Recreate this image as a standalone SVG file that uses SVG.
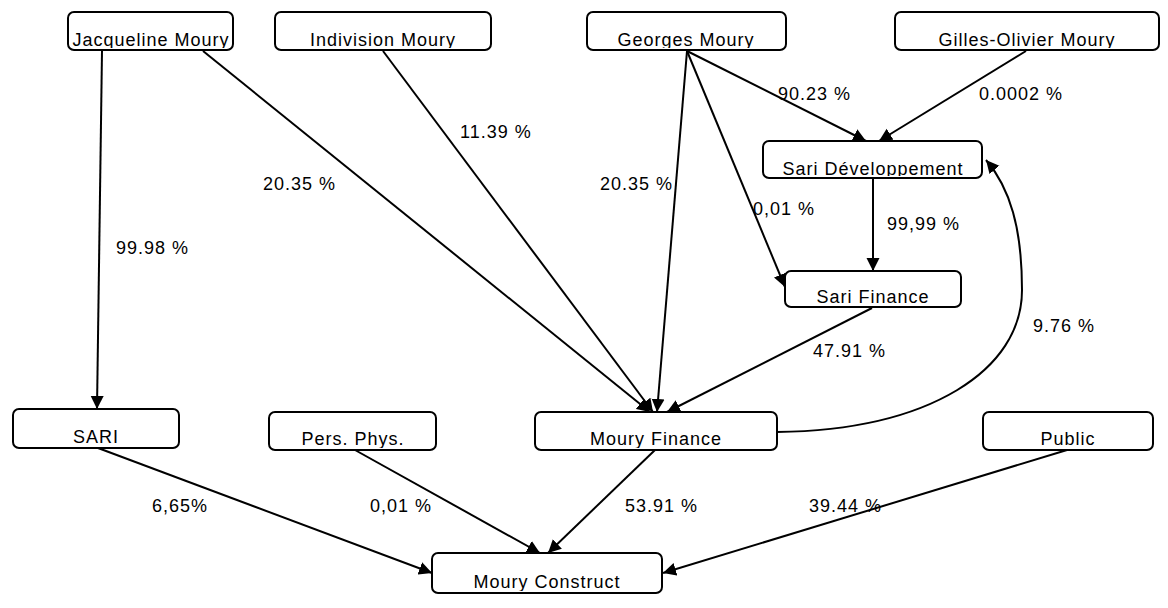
<svg xmlns="http://www.w3.org/2000/svg" width="1168" height="608" viewBox="0 0 1168 608">
<style>
  .box { fill: #ffffff; stroke: #000000; stroke-width: 2; }
  .nt { font-family: "Liberation Sans", Arial, sans-serif; font-size: 18px; letter-spacing: 1px; fill: #000000; text-anchor: middle; }
  .lbl { font-family: "Liberation Sans", Arial, sans-serif; font-size: 18px; letter-spacing: 1px; fill: #000000; }
  .edge { fill: none; stroke: #000000; stroke-width: 2; marker-end: url(#arrow); }
</style>
<defs>
  <marker id="arrow" markerUnits="userSpaceOnUse" markerWidth="14" markerHeight="14" refX="13" refY="7" orient="auto">
    <path d="M0,0.5 L13,7 L0,13.5 z" fill="#000000"/>
  </marker>
  <clipPath id="c-jac"><rect x="69" y="13" width="163" height="35"/></clipPath>
  <clipPath id="c-ind"><rect x="276" y="13" width="214" height="35"/></clipPath>
  <clipPath id="c-geo"><rect x="588" y="13" width="197" height="35"/></clipPath>
  <clipPath id="c-gil"><rect x="896" y="13" width="262" height="35"/></clipPath>
  <clipPath id="c-sdv"><rect x="764" y="142" width="217" height="34"/></clipPath>
  <clipPath id="c-sfi"><rect x="786" y="272" width="174" height="33"/></clipPath>
  <clipPath id="c-sari"><rect x="14" y="410" width="164" height="36"/></clipPath>
  <clipPath id="c-pers"><rect x="270" y="413" width="165" height="35"/></clipPath>
  <clipPath id="c-mfi"><rect x="536" y="413" width="240" height="35"/></clipPath>
  <clipPath id="c-pub"><rect x="984" y="413" width="168" height="35"/></clipPath>
  <clipPath id="c-mco"><rect x="433" y="554" width="228" height="37"/></clipPath>
</defs>

<g id="connectors">
  <line class="edge" x1="102" y1="51" x2="97" y2="409"/>
  <line class="edge" x1="203" y1="51" x2="650" y2="412"/>
  <line class="edge" x1="383" y1="51" x2="653" y2="412"/>
  <line class="edge" x1="687" y1="51" x2="657" y2="412"/>
  <line class="edge" x1="687" y1="51" x2="866" y2="141"/>
  <line class="edge" x1="687" y1="51" x2="785" y2="287"/>
  <line class="edge" x1="1026" y1="51" x2="879" y2="141"/>
  <line class="edge" x1="873" y1="178" x2="873" y2="271"/>
  <line class="edge" x1="872" y1="308" x2="667" y2="412"/>
  <path class="edge" d="M777,432 C930,430 1022,370 1022,290 C1022,228 1010,188 986,160"/>
  <line class="edge" x1="98" y1="448" x2="432" y2="573"/>
  <line class="edge" x1="355" y1="450" x2="540" y2="553"/>
  <line class="edge" x1="655" y1="450" x2="548" y2="553"/>
  <line class="edge" x1="1067" y1="450" x2="663" y2="573"/>
  <text class="lbl" x="116" y="254">99.98 %</text>
  <text class="lbl" x="263" y="190">20.35 %</text>
  <text class="lbl" x="460" y="138">11.39 %</text>
  <text class="lbl" x="600" y="190">20.35 %</text>
  <text class="lbl" x="778" y="100">90.23 %</text>
  <text class="lbl" x="753" y="215">0,01 %</text>
  <text class="lbl" x="979" y="100">0.0002 %</text>
  <text class="lbl" x="887" y="230">99,99 %</text>
  <text class="lbl" x="813" y="357">47.91 %</text>
  <text class="lbl" x="1033" y="332">9.76 %</text>
  <text class="lbl" x="152" y="512">6,65%</text>
  <text class="lbl" x="370" y="512">0,01 %</text>
  <text class="lbl" x="625" y="512">53.91 %</text>
  <text class="lbl" x="809" y="512">39.44 %</text>
</g>

<g id="node-jacqueline">
  <rect class="box" x="68" y="12" width="165" height="38" rx="6"/>
  <text class="nt" x="151" y="46" clip-path="url(#c-jac)">Jacqueline Moury</text>
</g>
<g id="node-indivision">
  <rect class="box" x="275" y="12" width="216" height="38" rx="6"/>
  <text class="nt" x="383" y="46" clip-path="url(#c-ind)">Indivision Moury</text>
</g>
<g id="node-georges">
  <rect class="box" x="587" y="12" width="199" height="38" rx="6"/>
  <text class="nt" x="686" y="46" clip-path="url(#c-geo)">Georges Moury</text>
</g>
<g id="node-gilles">
  <rect class="box" x="895" y="12" width="264" height="38" rx="6"/>
  <text class="nt" x="1027" y="46" clip-path="url(#c-gil)">Gilles-Olivier Moury</text>
</g>
<g id="node-sari-dev">
  <rect class="box" x="763" y="141" width="219" height="37" rx="6"/>
  <text class="nt" x="873" y="175" clip-path="url(#c-sdv)">Sari Développement</text>
</g>
<g id="node-sari-finance">
  <rect class="box" x="785" y="271" width="176" height="36" rx="6"/>
  <text class="nt" x="873" y="303" clip-path="url(#c-sfi)">Sari Finance</text>
</g>
<g id="node-sari">
  <rect class="box" x="13" y="409" width="166" height="39" rx="6"/>
  <text class="nt" x="96" y="443" clip-path="url(#c-sari)">SARI</text>
</g>
<g id="node-pers">
  <rect class="box" x="269" y="412" width="167" height="38" rx="6"/>
  <text class="nt" x="353" y="445" clip-path="url(#c-pers)">Pers. Phys.</text>
</g>
<g id="node-moury-finance">
  <rect class="box" x="535" y="412" width="242" height="38" rx="6"/>
  <text class="nt" x="656" y="445" clip-path="url(#c-mfi)">Moury Finance</text>
</g>
<g id="node-public">
  <rect class="box" x="983" y="412" width="170" height="38" rx="6"/>
  <text class="nt" x="1068" y="445" clip-path="url(#c-pub)">Public</text>
</g>
<g id="node-moury-construct">
  <rect class="box" x="432" y="553" width="230" height="40" rx="6"/>
  <text class="nt" x="547" y="588" clip-path="url(#c-mco)">Moury Construct</text>
</g>
</svg>
